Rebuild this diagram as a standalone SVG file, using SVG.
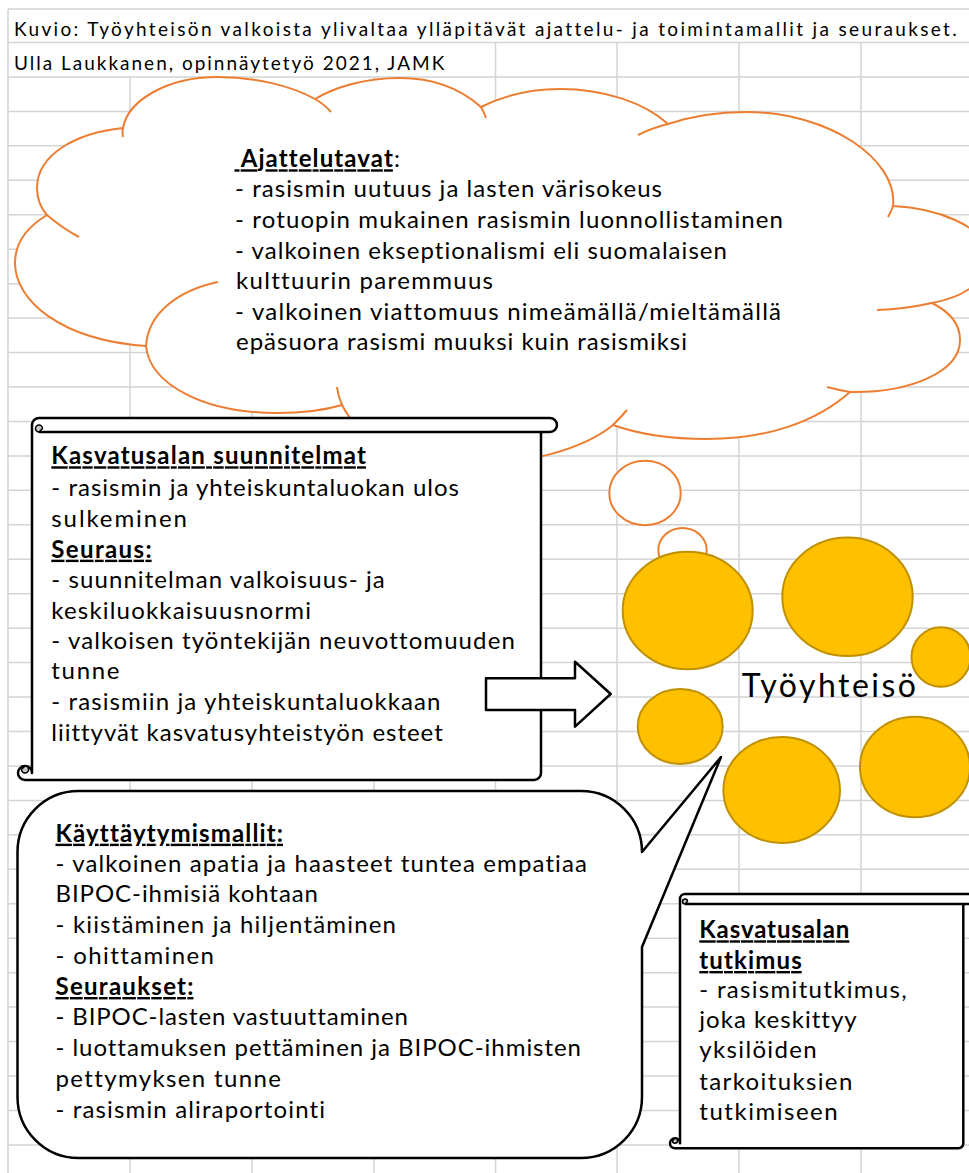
<svg xmlns="http://www.w3.org/2000/svg" width="969" height="1173" viewBox="0 0 969 1173">
<style>
.grid{stroke:#d4d4d4;stroke-width:1.5;fill:none}
.cl{fill:#fff;stroke:#ED7D31;stroke-width:2}
.cr{fill:none;stroke:#ED7D31;stroke-width:2}
.oc{fill:#fff;stroke:#ED7D31;stroke-width:2}
.gc{fill:#FFC000;stroke:#BF9000;stroke-width:2}
.sh{fill:#fff;stroke:#000;stroke-width:2.5;stroke-linejoin:round}
.ln{fill:none;stroke:#000;stroke-width:2.5}
.curl{fill:#c8c8c8;stroke:#000;stroke-width:1.5}
text{font-family:Lato,'Liberation Sans',sans-serif;fill:#000;font-variant-ligatures:none}
.t{font-size:24px}
.h{font-size:19px}
.big{font-size:32px}
.b{font-weight:bold;text-decoration:underline}
</style>
<rect width="969" height="1173" fill="#fff"/>
<g id="grid">
<path class="grid" d="M8,9V1173 M130,77V1173 M252,77V1173 M374,77V1173 M495.5,42.5V1173 M617,42.5V1173 M739,42.5V1173 M861,42.5V1173
M8,9H969 M8,42.5H969 M8,77H969 M8,111.4H969 M8,145.85H969 M8,180.3H969 M8,214.75H969 M8,249.2H969 M8,283.65H969 M8,318.1H969 M8,352.55H969 M8,387H969 M8,421.45H969 M8,455.9H969 M8,490.35H969 M8,524.8H969 M8,559.25H969 M8,593.7H969 M8,628.15H969 M8,662.6H969 M8,697.05H969 M8,731.5H969 M8,765.95H969 M8,800.4H969 M8,834.85H969 M8,869.3H969 M8,903.75H969 M8,938.2H969 M8,972.65H969 M8,1007.1H969 M8,1041.55H969 M8,1076H969 M8,1110.45H969 M8,1144.9H969"/>
</g>
<g id="title">
<text class="h" x="14" y="35.5" textLength="942.7">Kuvio: Työyhteisön valkoista ylivaltaa ylläpitävät ajattelu- ja toimintamallit ja seuraukset.</text>
<text class="h" x="14" y="70" textLength="430.3">Ulla Laukkanen, opinnäytetyö 2021, JAMK</text>
</g>
<g id="cloud-ajattelutavat">
<path class="cl" d="M123,128 C128,100 168,77 217,77 C255,77 292,86 315,99 C335,87 365,78 400,78 C435,78 462,90 481,107 C505,95 530,89 560,89 C605,89 645,103 668,124 C692,116 718,112 746,112 C830,112 898,160 893,206 C935,208 985,225 988,255 C990,280 965,297 932,303 C950,312 960,325 960,340 C960,372 910,393 850,392 C815,423 765,439 707,439 C670,439 638,434 613,425 C585,448 530,465 460,465 C400,465 360,440 342,405 C322,411 300,413 277,413 C205,413 150,385 146,346 C60,340 15,300 15,263 C15,243 27,227 47,215 C40,207 37,197 37,188 C37,155 75,133 123,128 Z"/>
<path class="cr" d="M315,99 Q324,104 331,112 M481,107 Q484,112 486,118 M638,135 Q652,128 668,124 M893,206 Q891,212 888,217 M932,303 Q905,309 877,310 M850,392 Q838,390 827,387 M613,425 Q621,417 627,410 M342,405 Q338,396 337,387 M218,282 C180,290 148,312 146,346 M47,215 Q62,228 79,237 M123,128 Q122,132 123,137"/>
<text class="t" x="234.5" y="167.3" textLength="165.5" style="white-space:pre"><tspan class="b"> Ajattelutavat</tspan>:</text>
<text class="t" x="235" y="197.3" textLength="427">- rasismin uutuus ja lasten värisokeus</text>
<text class="t" x="235" y="227.5" textLength="548">- rotuopin mukainen rasismin luonnollistaminen</text>
<text class="t" x="235" y="258.5" textLength="492">- valkoinen ekseptionalismi eli suomalaisen</text>
<text class="t" x="236" y="289" textLength="257">kulttuurin paremmuus</text>
<text class="t" x="235" y="320" textLength="546">- valkoinen viattomuus nimeämällä/mieltämällä</text>
<text class="t" x="236" y="350" textLength="451">epäsuora rasismi muuksi kuin rasismiksi</text>
</g>
<g id="tyoyhteiso">
<ellipse class="oc" cx="645" cy="493" rx="35.7" ry="32.2"/>
<ellipse class="oc" cx="682.5" cy="550" rx="24.2" ry="22"/>
<ellipse class="gc" cx="687.7" cy="610.5" rx="65" ry="58.8"/>
<ellipse class="gc" cx="847.5" cy="596.8" rx="65.2" ry="59.2"/>
<ellipse class="gc" cx="941" cy="657" rx="29.5" ry="29.7"/>
<ellipse class="gc" cx="680.2" cy="726.5" rx="42.5" ry="37.5"/>
<ellipse class="gc" cx="781.7" cy="790" rx="58.3" ry="53"/>
<ellipse class="gc" cx="915" cy="767" rx="55" ry="50.3"/>
<text class="big" x="741.7" y="696.7" textLength="174.3">Työyhteisö</text>
</g>
<g id="scroll-suunnitelmat">
<path class="sh" d="M39,418 H550 A7,7 0 0 1 550,432 H541 V773 A7,7 0 0 1 534,780 H25 A7,7 0 0 1 18,773 A7,7 0 0 1 32,773 V425 A7,7 0 0 1 39,418 Z"/>
<path class="ln" d="M39,432 H541"/>
<path class="curl" d="M39,432 A3.5,3.5 0 0 1 39,425 A3.5,3.5 0 0 1 42.5,428.5 Z"/>
<path class="curl" d="M25,766 A3.5,3.5 0 0 1 25,773 A3.5,3.5 0 0 1 21.5,769.5 Z"/>
<text class="t b" x="51.3" y="464.3" textLength="314.7">Kasvatusalan suunnitelmat</text>
<text class="t" x="51.3" y="495.7" textLength="407.7">- rasismin ja yhteiskuntaluokan ulos</text>
<text class="t" x="51.3" y="526.7" textLength="135.7">sulkeminen</text>
<text class="t b" x="51.3" y="557.7" textLength="100.3">Seuraus:</text>
<text class="t" x="51.3" y="588.3" textLength="333.4">- suunnitelman valkoisuus- ja</text>
<text class="t" x="51.3" y="619" textLength="259.7">keskiluokkaisuusnormi</text>
<text class="t" x="51.3" y="649" textLength="463.5">- valkoisen työntekijän neuvottomuuden</text>
<text class="t" x="51.3" y="679.3" textLength="68.2">tunne</text>
<text class="t" x="51.3" y="710" textLength="389.2">- rasismiin ja yhteiskuntaluokkaan</text>
<text class="t" x="51.3" y="741" textLength="391.5">liittyvät kasvatusyhteistyön esteet</text>
</g>
<g id="connectors">
<path id="arrow" class="sh" d="M486,678.3 H575 V661.7 L610.7,694 L575,726.7 V710 H486 Z"/>
</g>
<g id="bubble-kayttaytymismallit">
<path class="sh" d="M78.5,791 H581 A61,61 0 0 1 642,852 L721,757 L642,947 V1097 A61,61 0 0 1 581,1158 H78.5 A61,61 0 0 1 17.5,1097 V852 A61,61 0 0 1 78.5,791 Z"/>
<text class="t b" x="55.5" y="841.7" textLength="227.5">Käyttäytymismallit:</text>
<text class="t" x="55.5" y="871.7" textLength="531.5">- valkoinen apatia ja haasteet tuntea empatiaa</text>
<text class="t" x="55.5" y="902.3" textLength="262.5">BIPOC-ihmisiä kohtaan</text>
<text class="t" x="55.5" y="933.3" textLength="340.5">- kiistäminen ja hiljentäminen</text>
<text class="t" x="55.5" y="964" textLength="158.5">- ohittaminen</text>
<text class="t b" x="55.5" y="995" textLength="138">Seuraukset:</text>
<text class="t" x="55.5" y="1025" textLength="352.5">- BIPOC-lasten vastuuttaminen</text>
<text class="t" x="55.5" y="1056" textLength="525.5">- luottamuksen pettäminen ja BIPOC-ihmisten</text>
<text class="t" x="55.5" y="1086.7" textLength="225.5">pettymyksen tunne</text>
<text class="t" x="55.5" y="1117.7" textLength="269.5">- rasismin aliraportointi</text>
</g>
<g id="scroll-tutkimus">
<path class="sh" d="M685,894 H975 A5,5 0 0 1 975,904 H963.3 V1143.3 A5,5 0 0 1 958.3,1148.3 H675 A5,5 0 0 1 670,1143.3 A5,5 0 0 1 680,1143.3 V899 A5,5 0 0 1 685,894 Z"/>
<path class="ln" d="M685,904 H963.3"/>
<path class="curl" d="M685,904 A2.5,2.5 0 0 1 685,899 A2.5,2.5 0 0 1 687.5,901.5 Z"/>
<path class="curl" d="M675,1138.3 A2.5,2.5 0 0 1 675,1143.3 A2.5,2.5 0 0 1 672.5,1140.8 Z"/>
<text class="t b" x="699.3" y="938.3" textLength="150">Kasvatusalan</text>
<text class="t b" x="699.3" y="969" textLength="102.4">tutkimus</text>
<text class="t" x="699.3" y="998.3" textLength="207.4">- rasismitutkimus,</text>
<text class="t" x="699.3" y="1028.3" textLength="157.4">joka keskittyy</text>
<text class="t" x="699.3" y="1058.3" textLength="117.4">yksilöiden</text>
<text class="t" x="699.3" y="1090" textLength="153">tarkoituksien</text>
<text class="t" x="699.3" y="1120" textLength="138.4">tutkimiseen</text>
</g>
</svg>
